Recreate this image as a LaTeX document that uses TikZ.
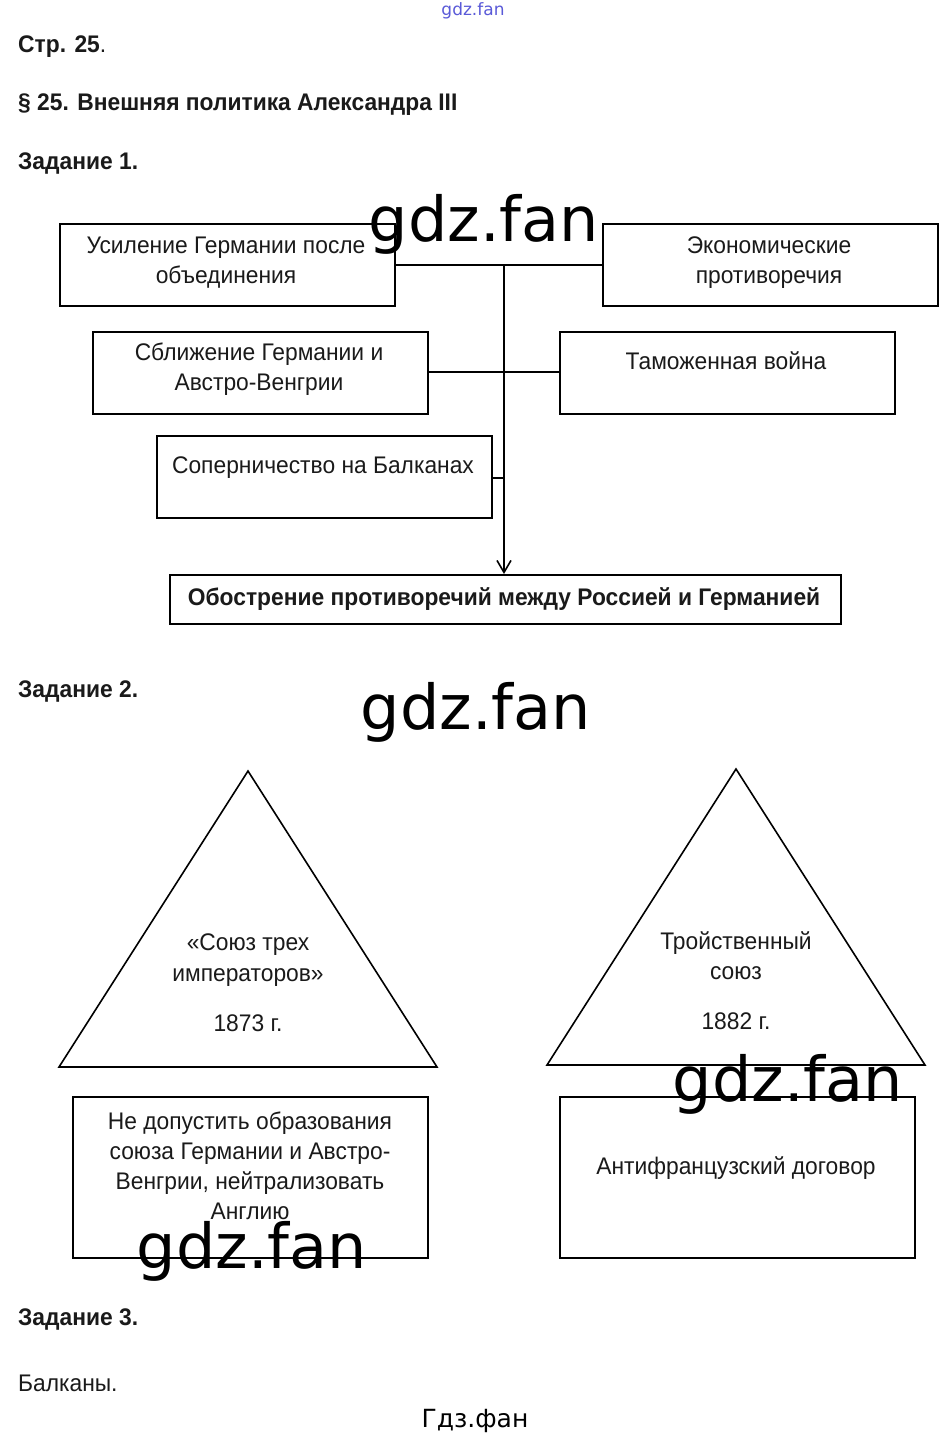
\documentclass[tikz,border=0pt]{standalone}
\usepackage{fontspec}
\setmainfont{Liberation Sans}[FakeStretch=0.95]
\newfontfamily\wmfont{DejaVu Sans}
\usetikzlibrary{arrows.meta}
\definecolor{ink}{HTML}{1A1A1A}
\definecolor{wmblue}{HTML}{5A5AD8}
\begin{document}
\begin{tikzpicture}[x=1pt,y=-1pt,
  txt/.style={anchor=base,inner sep=0pt,text=ink,font=\fontsize{24}{30}\selectfont},
  ttl/.style={anchor=base west,inner sep=0pt,text=ink,font=\fontsize{24}{28}\selectfont\bfseries},
  bx/.style={draw=black,line width=1.7pt,inner sep=0pt,anchor=north west},
  conn/.style={draw=black,line width=1.6pt},
  wm/.style={inner sep=0pt,text=black,font=\wmfont\fontsize{62}{70}\selectfont}]
\useasboundingbox (0,0) rectangle (946,1441);
\fill[white] (0,0) rectangle (946,1441);
% headings
\node[ttl] (h1) at (18,52) {Стр. 25{\mdseries .}};
\node[ttl] (h2) at (18,110) {§ 25. Внешняя политика Александра III};
\node[ttl] (h3) at (18,169) {Задание 1.};
% task 1 boxes
\node[bx,minimum width=335pt,minimum height=82pt] (b1) at (59,223) {};
\node[bx,minimum width=335pt,minimum height=82pt] (b2) at (602,223) {};
\node[bx,minimum width=335pt,minimum height=82pt] (b3) at (92,331) {};
\node[bx,minimum width=335pt,minimum height=82pt] (b4) at (559,331) {};
\node[bx,minimum width=335pt,minimum height=82pt] (b5) at (156,435) {};
\node[bx,minimum width=671pt,minimum height=49pt] (res) at (169,574) {};
\node[txt] (t1a) at (226,253) {Усиление Германии после};
\node[txt] (t1b) at (226,283) {объединения};
\node[txt] (t2a) at (769,253) {Экономические};
\node[txt] (t2b) at (769,283) {противоречия};
\node[txt] (t3a) at (259,360) {Сближение Германии и};
\node[txt] (t3b) at (259,390) {Австро-Венгрии};
\node[txt] (t4a) at (726,369) {Таможенная война};
\node[txt] (t5a) at (323,473) {Соперничество на Балканах};
\node[txt,font=\fontsize{24}{28}\selectfont\bfseries] (tres) at (504,605) {Обострение противоречий между Россией и Германией};
% connectors
\coordinate (top) at (504,265);
\draw[conn] (b1.east |- top) -- (b2.west |- top);
\draw[conn] (b3.east |- 0,372) -- (b4.west |- 0,372);
\draw[conn] (b5.east |- 0,478) -- (504,478);
\draw[conn,-{Straight Barb[length=12pt,width=14pt,line width=1.6pt]}] (top) -- (res.north -| top);
% task 2
\node[ttl] (h4) at (18,697) {Задание 2.};
\coordinate (la) at (248,771);
\coordinate (lb) at (59,1067);
\coordinate (lc) at (437,1067);
\draw[conn,line join=miter] (la) -- (lb) -- (lc) -- cycle;
\coordinate (ra) at (736,769);
\coordinate (rb) at (547,1065);
\coordinate (rc) at (925,1065);
\draw[conn,line join=miter] (ra) -- (rb) -- (rc) -- cycle;
\node[txt] (l1) at (248,950) {«Союз трех};
\node[txt] (l2) at (248,981) {императоров»};
\node[txt] (l3) at (248,1031) {1873 г.};
\node[txt] (r1) at (736,949) {Тройственный};
\node[txt] (r2) at (736,979) {союз};
\node[txt] (r3) at (736,1029) {1882 г.};
\node[bx,minimum width=355pt,minimum height=161pt] (b6) at (72,1096) {};
\node[bx,minimum width=355pt,minimum height=161pt] (b7) at (559,1096) {};
\node[txt] (g1) at (250,1129) {Не допустить образования};
\node[txt] (g2) at (250,1159) {союза Германии и Австро-};
\node[txt] (g3) at (250,1189) {Венгрии, нейтрализовать};
\node[txt] (g4) at (250,1219) {Англию};
\node[txt] (g5) at (736,1174) {Антифранцузский договор};
% task 3
\node[ttl] (h5) at (18,1325) {Задание 3.};
\node[ttl,font=\fontsize{24}{28}\selectfont] (ans) at (18,1391) {Балканы.};
% watermarks
\node[wm] (w1) at (484,224) {gdz.fan};
\node[wm] (w2) at (476,712) {gdz.fan};
\node[wm] (w3) at (788,1084) {gdz.fan};
\node[wm] (w4) at (252,1251) {gdz.fan};
\node[inner sep=0pt,text=wmblue,font=\wmfont\fontsize{17}{20}\selectfont] (w5) at (473,11) {gdz.fan};
\node[inner sep=0pt,text=black,font=\wmfont\fontsize{25}{28}\selectfont] (w6) at (475,1421) {Гдз.фан};
\end{tikzpicture}
\end{document}
